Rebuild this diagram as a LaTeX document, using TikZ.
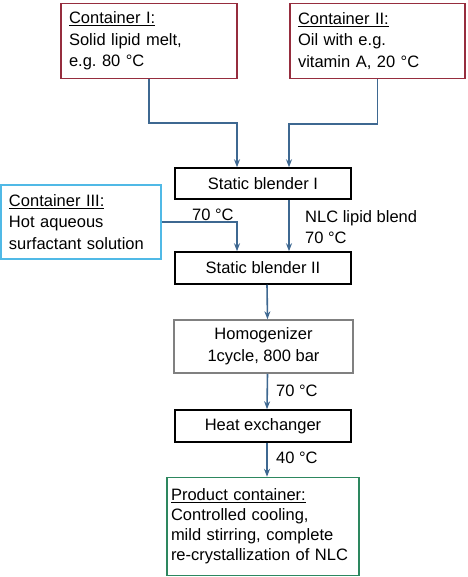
\documentclass[tikz,border=0pt]{standalone}
\usepackage{fontspec}
\setmainfont{Liberation Sans}
\usepackage{xcolor}
\usetikzlibrary{positioning,arrows.meta}
\definecolor{contred}{RGB}{150,45,62}
\definecolor{contcyan}{RGB}{80,185,230}
\definecolor{prodgreen}{RGB}{45,135,95}
\definecolor{flowblue}{RGB}{62,104,145}
\frenchspacing

\begin{document}
\begin{tikzpicture}
            [
            x=1pt,y=-1pt,
            font=\fontsize{16.5}{21.7}\selectfont,
            unit/.style={draw,line width=1.5pt,inner xsep=0pt,inner ysep=0pt,align=center,minimum width=176pt,minimum height=31pt},
            vessel/.style={draw,line width=1.5pt,inner xsep=8pt,inner ysep=0pt,align=left},
            edge/.style={-{Stealth[length=8pt,width=6pt]},line width=1.6pt,flowblue}
            ]
        \useasboundingbox (0,0) rectangle (467,577);
        % feed containers
        \node[vessel,contred,text=black,text width=160pt,minimum height=75pt] (c1) at (149,41)
            {\underline{Container I:}\\Solid lipid melt,\\e.g. 80 °C};
        \node[vessel,contred,text=black,text width=159pt,minimum height=75pt] (c2) at (377.5,41)
            {\underline{Container II:}\\Oil with e.g.\\vitamin A, 20 °C};
        \node[vessel,contcyan,text=black,text width=144pt,minimum height=74pt] (c3) at (81,222)
            {\underline{Container III:}\\Hot aqueous\\surfactant solution};
        % process line
        \node[unit] (sb1) at (263,183.5) {Static blender I};
        \node[unit,minimum height=32pt] (sb2) at (263,268) {Static blender II};
        \node[unit,draw=gray,minimum width=179pt,minimum height=53pt] (hom) at (263.5,346.5)
            {Homogenizer\\1cycle, 800 bar};
        \node[unit,minimum height=32pt] (hx) at (263,426) {Heat exchanger};
        \node[vessel,prodgreen,text=black,inner xsep=4pt,text width=184pt,minimum height=98pt,
              font=\fontsize{16.5}{20}\selectfont] (prod) at (263,526.5)
            {\underline{Product container:}\\Controlled cooling,\\mild stirring, complete\\re-crystallization of NLC};
        % flows
        \draw[edge] (c1.south) -- ++(0,44) -| ([xshift=-26pt]sb1.north);
        \draw[edge] (c2.south) -- ++(0,45) -| ([xshift=26pt]sb1.north);
        \draw[edge] (c3.east) -| ([xshift=-26pt]sb2.north);
        \draw[edge] ([xshift=26pt]sb1.south) -- ([xshift=26pt]sb2.north);
        \draw[edge] ([xshift=4pt]sb2.south) -- ([xshift=4pt]hom.north);
        \draw[edge] ([xshift=4pt]hom.south) -- ([xshift=4pt]hx.north);
        \draw[edge] ([xshift=4pt]hx.south) -- ([xshift=4pt]prod.north);
        % temperatures
        \node[anchor=west,inner sep=0pt] (t1) at (192,215) {70 °C};
        \node[anchor=west,inner sep=0pt,align=left] (t2) at (305,227) {NLC lipid blend\\70 °C};
        \node[anchor=west,inner sep=0pt] (t3) at (276,391) {70 °C};
        \node[anchor=west,inner sep=0pt] (t4) at (276,458) {40 °C};
\end{tikzpicture}
\end{document}
